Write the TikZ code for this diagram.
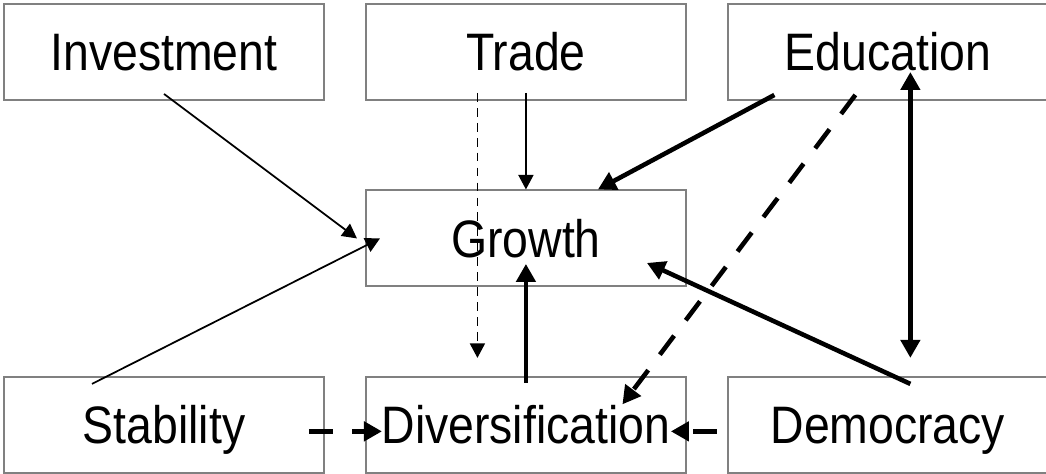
\documentclass[tikz,border=0pt]{standalone}
\usepackage{fontspec}
\setmainfont{Liberation Sans}[FakeStretch=0.88]
\usetikzlibrary{arrows.meta, positioning}

\begin{document}
\begin{tikzpicture}[node distance=1.77cm and 0.8cm]

\tikzstyle{factor}=[rectangle,draw=black!50,line width=1.1pt,minimum width=6.4cm,minimum height=1.92cm,font=\fontsize{30}{36}\selectfont,text height=21.6pt,text depth=0pt];
\tikzstyle{weak}=[line width=1pt,-{Triangle[length=0.29cm,width=0.3cm]}];
\tikzstyle{strong}=[line width=2.6pt,-{Triangle[length=0.36cm,width=0.38cm]}];
\tikzstyle{weakdash}=[weak,dash pattern=on 5pt off 3.5pt];
\tikzstyle{strongdash}=[strong,dash pattern=on 13.5pt off 11pt];

\useasboundingbox (0,0) rectangle (20.92,-9.48);

% boxes
\node(INV) [factor] at (3.28,-1.04) {Investment};
\node(TRADE) [factor, right= of INV] {Trade};
\node(EDU) [factor, right= of TRADE] {Education};
\node(GROWTH) [factor, below= of TRADE] {Growth};
\node(DIV) [factor, below= of GROWTH] {Diversification};
\node(STAB) [factor, left= of DIV] {Stability};
\node(DEM) [factor, right= of DIV] {Democracy};

% links
\draw[weak] ([yshift=0.14cm]INV.south) -- ([xshift=-0.16cm]GROWTH.west);
\draw[weak] ([shift={(-1.44,-0.16)}]STAB.north) -- ([xshift=0.3cm]GROWTH.west);
\draw[weak] ([yshift=0.16cm]TRADE.south) -- (GROWTH.north);
\draw[weakdash] ([shift={(-0.97,0.16)}]TRADE.south) -- ([shift={(-0.97,0.36)}]DIV.north);
\draw[strong] ([shift={(-2.27,0.12)}]EDU.south) -- ([xshift=1.44cm]GROWTH.north);
\draw[strongdash] ([shift={(-0.65,0.12)}]EDU.south) -- ([shift={(1.93,0.41)}]DIV.center);
\draw[strong,{Triangle[length=0.36cm,width=0.38cm]}-{Triangle[length=0.36cm,width=0.38cm]}] ([shift={(0.45,-0.4)}]EDU.center) -- ([shift={(0.45,0.36)}]DEM.north);
\draw[strong] ([shift={(0.45,-0.16)}]DEM.north) -- ([shift={(2.42,-0.49)}]GROWTH.center);
\draw[strong] ([yshift=-0.14cm]DIV.north) -- ([yshift=-0.51cm]GROWTH.center);
\draw[strongdash] ([shift={(-0.32,-0.13)}]STAB.east) -- ([shift={(0.34,-0.13)}]DIV.west);
\draw[strongdash] ([shift={(-0.2,-0.13)}]DEM.west) -- ([shift={(-0.32,-0.13)}]DIV.east);

\end{tikzpicture}
\end{document}
